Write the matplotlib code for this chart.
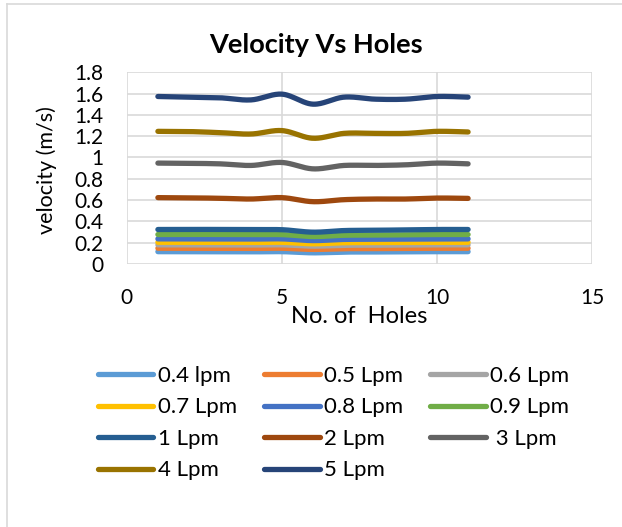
import numpy as np
import matplotlib.pyplot as plt
from matplotlib.lines import Line2D

plt.rcParams['font.family'] = ['Lato', 'DejaVu Sans']

holes = [1, 2, 3, 4, 5, 6, 7, 8, 9, 10, 11]

v_04 = [0.116, 0.116, 0.115, 0.114, 0.116, 0.105, 0.112, 0.113, 0.114, 0.116, 0.116]
v_05 = [0.148, 0.148, 0.147, 0.146, 0.148, 0.137, 0.144, 0.145, 0.146, 0.148, 0.148]
v_06 = [0.180, 0.180, 0.179, 0.178, 0.180, 0.168, 0.176, 0.177, 0.178, 0.180, 0.180]
v_07 = [0.204, 0.204, 0.203, 0.202, 0.204, 0.190, 0.200, 0.201, 0.202, 0.204, 0.204]
v_08 = [0.236, 0.236, 0.235, 0.234, 0.236, 0.220, 0.231, 0.232, 0.234, 0.236, 0.236]
v_09 = [0.277, 0.278, 0.277, 0.275, 0.276, 0.258, 0.270, 0.272, 0.274, 0.277, 0.277]
v_1 = [0.324, 0.325, 0.324, 0.322, 0.322, 0.299, 0.314, 0.317, 0.320, 0.324, 0.324]
v_2 = [0.623, 0.621, 0.617, 0.610, 0.623, 0.585, 0.604, 0.610, 0.610, 0.619, 0.616]
v_3 = [0.947, 0.945, 0.940, 0.925, 0.953, 0.893, 0.925, 0.925, 0.931, 0.947, 0.940]
v_4 = [1.245, 1.243, 1.233, 1.220, 1.252, 1.180, 1.226, 1.226, 1.226, 1.245, 1.239]
v_5 = [1.572, 1.566, 1.560, 1.540, 1.594, 1.500, 1.566, 1.547, 1.547, 1.572, 1.566]

labels = ['0.4 lpm', '0.5 Lpm', '0.6 Lpm', '0.7 Lpm', '0.8 Lpm', '0.9 Lpm',
          '1 Lpm', '2 Lpm', ' 3 Lpm', '4 Lpm', '5 Lpm']
series = [v_04, v_05, v_06, v_07, v_08, v_09, v_1, v_2, v_3, v_4, v_5]
colors = ['#5b9bd5', '#ed7d31', '#a5a5a5', '#ffc000', '#4472c4', '#70ad47',
          '#255e91', '#9e480e', '#636363', '#997300', '#264478']


def smooth(x, y, n=30):
    # Catmull-Rom style curve through the points, like Excel's smoothed line
    x = np.asarray(x, float)
    y = np.asarray(y, float)
    px = np.concatenate([[x[0]], x, [x[-1]]])
    py = np.concatenate([[y[0]], y, [y[-1]]])
    xs, ys = [], []
    t = np.linspace(0, 1, n)
    for i in range(1, len(px) - 2):
        for p, out in ((px, xs), (py, ys)):
            p0, p1, p2, p3 = p[i - 1], p[i], p[i + 1], p[i + 2]
            c1 = p1 + (p2 - p0) / 6
            c2 = p2 - (p3 - p1) / 6
            out.extend((1 - t) ** 3 * p1 + 3 * (1 - t) ** 2 * t * c1
                       + 3 * (1 - t) * t ** 2 * c2 + t ** 3 * p2)
    return np.array(xs), np.array(ys)


fig = plt.figure(figsize=(6.22, 5.27), dpi=100)
ax = fig.add_axes([0.204, 0.499, 0.748, 0.364])

for vals, c in zip(series, colors):
    sx, sy = smooth(holes, vals)
    ax.plot(sx, sy, color=c, lw=3.8, solid_capstyle='round')

ax.set_xlim(0, 15)
ax.set_ylim(0, 1.8)
ax.set_xticks([0, 5, 10, 15])
ax.set_yticks(np.arange(0, 1.81, 0.2))
ax.set_yticklabels(['0', '0.2', '0.4', '0.6', '0.8', '1', '1.2', '1.4', '1.6', '1.8'])
ax.grid(True, color='#d9d9d9', lw=1.2)
ax.set_axisbelow(True)
for s in ax.spines.values():
    s.set_visible(False)
ax.tick_params(length=0, labelsize=15)
ax.tick_params(axis='x', pad=17)
ax.tick_params(axis='y', pad=17)

ax.set_xlabel('No. of  Holes', fontsize=17, labelpad=-1)
ax.set_ylabel('velocity (m/s)', fontsize=15.5, va='center')
ax.yaxis.set_label_coords(-0.172, 0.49)
fig.text(0.508, 0.914, 'Velocity Vs Holes', fontsize=19.5, fontweight='bold',
         ha='center', va='center')

handles = [Line2D([], [], color=c, lw=3.8, solid_capstyle='round') for c in colors]
order = [0, 3, 6, 9, 1, 4, 7, 10, 2, 5, 8]
fig.legend([handles[i] for i in order], [labels[i] for i in order],
           loc='upper left', bbox_to_anchor=(0.139, 0.327), ncol=3, frameon=False,
           fontsize=16, handlelength=2.5, handletextpad=0.2, columnspacing=1.23,
           labelspacing=0.52, borderpad=0)

# chart area border
fig.add_artist(Line2D([0.011, 0.011], [0, 0.992], color='#d9d9d9', lw=1.2))
fig.add_artist(Line2D([0.011, 1], [0.992, 0.992], color='#d9d9d9', lw=1.2))

fig.savefig('out.png', dpi=100)
